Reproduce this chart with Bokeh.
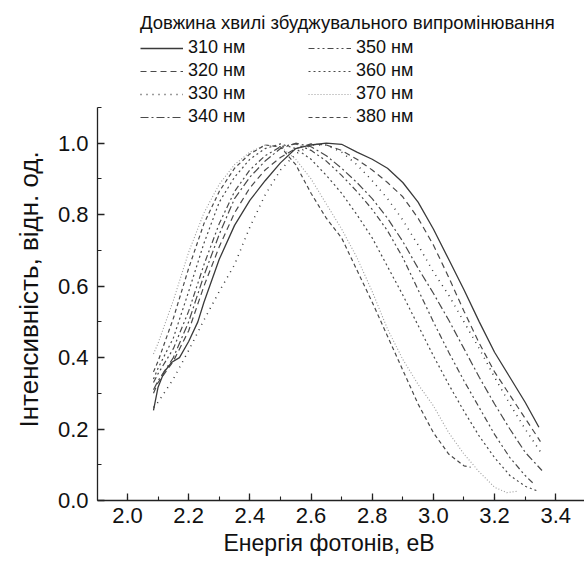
from bokeh.plotting import figure
from bokeh.models import Range1d, Legend, LegendItem, FixedTicker, NumeralTickFormatter, Title
from bokeh.embed import file_html
from bokeh.resources import INLINE

# ---- data (photon energy, eV ; normalised intensity) ----
e_310 = [2.085, 2.10, 2.12, 2.145, 2.17, 2.20, 2.23, 2.25, 2.30, 2.35, 2.40, 2.45, 2.50, 2.55, 2.60,
         2.65, 2.70, 2.75, 2.80, 2.85, 2.90, 2.95, 3.00, 3.05, 3.10, 3.15, 3.20, 3.25, 3.30, 3.345]
i_310 = [0.252, 0.317, 0.36, 0.387, 0.40, 0.445, 0.50, 0.555, 0.675, 0.77, 0.84, 0.895, 0.945, 0.985, 0.995,
         1.0, 0.997, 0.975, 0.955, 0.93, 0.89, 0.835, 0.76, 0.675, 0.59, 0.50, 0.415, 0.345, 0.275, 0.205]

e_320 = [2.085, 2.10, 2.15, 2.20, 2.25, 2.30, 2.35, 2.40, 2.45, 2.50, 2.55, 2.60, 2.65, 2.70,
         2.75, 2.80, 2.85, 2.90, 2.95, 3.00, 3.05, 3.10, 3.15, 3.20, 3.25, 3.30, 3.35]
i_320 = [0.30, 0.33, 0.39, 0.475, 0.60, 0.71, 0.805, 0.875, 0.925, 0.96, 0.985, 0.998, 0.995, 0.98,
         0.955, 0.925, 0.89, 0.85, 0.79, 0.715, 0.625, 0.53, 0.44, 0.36, 0.295, 0.23, 0.165]

e_330 = [2.085, 2.10, 2.15, 2.20, 2.25, 2.30, 2.35, 2.40, 2.45, 2.50, 2.55, 2.60, 2.65, 2.70,
         2.75, 2.80, 2.85, 2.90, 2.95, 3.00, 3.05, 3.10, 3.15, 3.20, 3.25, 3.30, 3.355]
i_330 = [0.26, 0.275, 0.34, 0.42, 0.505, 0.585, 0.66, 0.765, 0.855, 0.925, 0.97, 0.995, 0.995, 0.975,
         0.94, 0.895, 0.845, 0.785, 0.715, 0.64, 0.575, 0.50, 0.425, 0.345, 0.27, 0.20, 0.13]

e_340 = [2.085, 2.10, 2.15, 2.20, 2.25, 2.30, 2.35, 2.40, 2.45, 2.50, 2.55, 2.60, 2.65, 2.70,
         2.75, 2.80, 2.85, 2.90, 2.95, 3.00, 3.05, 3.10, 3.15, 3.20, 3.25, 3.30, 3.355]
i_340 = [0.31, 0.335, 0.40, 0.50, 0.63, 0.745, 0.845, 0.905, 0.95, 0.985, 1.0, 0.99, 0.965, 0.93,
         0.89, 0.845, 0.79, 0.725, 0.65, 0.58, 0.505, 0.425, 0.345, 0.27, 0.20, 0.135, 0.084]

e_350 = [2.085, 2.10, 2.15, 2.20, 2.25, 2.30, 2.35, 2.40, 2.45, 2.50, 2.55, 2.60, 2.65, 2.70,
         2.75, 2.80, 2.85, 2.90, 2.95, 3.00, 3.05, 3.10, 3.15, 3.20, 3.25, 3.30, 3.33]
i_350 = [0.33, 0.355, 0.425, 0.53, 0.66, 0.775, 0.865, 0.925, 0.965, 0.99, 0.998, 0.98, 0.95, 0.91,
         0.865, 0.815, 0.755, 0.68, 0.59, 0.50, 0.415, 0.335, 0.26, 0.185, 0.12, 0.07, 0.045]

e_360 = [2.085, 2.10, 2.15, 2.20, 2.25, 2.30, 2.35, 2.40, 2.45, 2.50, 2.55, 2.60, 2.65, 2.70,
         2.75, 2.80, 2.85, 2.90, 2.95, 3.00, 3.05, 3.10, 3.15, 3.20, 3.25, 3.30, 3.345]
i_360 = [0.34, 0.37, 0.455, 0.585, 0.72, 0.835, 0.905, 0.955, 0.985, 0.998, 0.985, 0.955, 0.91, 0.86,
         0.80, 0.735, 0.655, 0.575, 0.49, 0.405, 0.325, 0.25, 0.18, 0.12, 0.07, 0.04, 0.025]

e_370 = [2.085, 2.10, 2.15, 2.20, 2.25, 2.30, 2.35, 2.40, 2.45, 2.50, 2.55, 2.60, 2.65, 2.70,
         2.75, 2.80, 2.85, 2.90, 2.95, 3.00, 3.05, 3.10, 3.15, 3.20, 3.24, 3.275]
i_370 = [0.41, 0.44, 0.56, 0.695, 0.805, 0.885, 0.94, 0.975, 0.995, 0.99, 0.955, 0.90, 0.83, 0.76,
         0.68, 0.585, 0.48, 0.395, 0.325, 0.265, 0.19, 0.13, 0.08, 0.037, 0.022, 0.026]

e_380 = [2.085, 2.10, 2.15, 2.20, 2.25, 2.30, 2.35, 2.40, 2.45, 2.50, 2.55, 2.60, 2.65, 2.70,
         2.75, 2.80, 2.85, 2.90, 2.95, 3.00, 3.05, 3.10, 3.122]
i_380 = [0.36, 0.39, 0.51, 0.65, 0.775, 0.865, 0.93, 0.97, 0.995, 0.99, 0.94, 0.86, 0.79, 0.735,
         0.645, 0.555, 0.46, 0.365, 0.27, 0.19, 0.13, 0.097, 0.093]

labels = ["310 нм", "320 нм", "330 нм", "340 нм", "350 нм", "360 нм", "370 нм", "380 нм"]
x_ticks = [2.0, 2.2, 2.4, 2.6, 2.8, 3.0, 3.2, 3.4]
y_ticks = [0.0, 0.2, 0.4, 0.6, 0.8, 1.0]
legend_title = "Довжина хвилі збуджувального випромінювання"
x_title = "Енергія фотонів, еВ"
y_title = "Інтенсивність, відн. од."

series = [(e_310, i_310), (e_320, i_320), (e_330, i_330), (e_340, i_340),
          (e_350, i_350), (e_360, i_360), (e_370, i_370), (e_380, i_380)]
styles = [("solid", "#3a3a3a", 1.3),
          ("6 4", "#4a4a4a", 1.2),
          ("1 5", "#3a3a3a", 1.5),
          ("8 3 2 3", "#4a4a4a", 1.2),
          ("6 3 2 3 2 3", "#4a4a4a", 1.2),
          ("2 3", "#4a4a4a", 1.2),
          ("1 2", "#9c9c9c", 1.1),
          ("4 3", "#4a4a4a", 1.2)]

FONT = "Liberation Sans"

# frame reaches the top of the canvas so the legend (inside the frame) is not clipped;
# the axis itself is bounded to 0 - 1.1
p = figure(width=584, height=572, output_backend="svg", toolbar_location=None,
           x_range=Range1d(1.902, 3.494), y_range=Range1d(0.0, 1.3994),
           min_border_left=96, min_border_right=0, min_border_top=0, min_border_bottom=72)
p.outline_line_color = None
p.xgrid.visible = False
p.ygrid.visible = False

renderers = []
for (ex, iy), (dash, col, lw) in zip(series, styles):
    r = p.line(ex, iy, line_color=col, line_width=lw, line_dash=dash)
    renderers.append(r)

minor_x = [round(1.9 + 0.1 * k, 1) for k in range(17)]
minor_y = [round(0.1 * k, 1) for k in range(12)]
p.xaxis.ticker = FixedTicker(ticks=x_ticks, minor_ticks=minor_x)
p.yaxis.ticker = FixedTicker(ticks=y_ticks, minor_ticks=minor_y)
p.yaxis.bounds = (0.0, 1.1)
p.xaxis.formatter = NumeralTickFormatter(format="0.0")
p.yaxis.formatter = NumeralTickFormatter(format="0.0")

for ax in (p.xaxis[0], p.yaxis[0]):
    ax.axis_line_color = "#222222"
    ax.axis_line_width = 1.3
    ax.major_tick_line_color = "#222222"
    ax.minor_tick_line_color = "#222222"
    ax.major_tick_line_width = 1.3
    ax.minor_tick_line_width = 1.1
    ax.major_tick_in = 7
    ax.major_tick_out = 0
    ax.minor_tick_in = 4
    ax.minor_tick_out = 0
    ax.major_label_text_font = FONT
    ax.major_label_text_font_size = "22px"
    ax.major_label_text_color = "#111111"

p.xaxis.major_label_standoff = 7
p.yaxis.major_label_standoff = 9

# axis titles as side titles so they can be placed like in the reference
xt = Title(text=x_title, align="left", offset=126, text_font=FONT, text_font_size="23px",
           text_font_style="normal", text_color="#111111", standoff=4)
yt = Title(text=y_title, align="left", offset=73, text_font=FONT, text_font_size="26px",
           text_font_style="normal", text_color="#111111", standoff=22)
p.add_layout(xt, "below")
p.add_layout(yt, "left")

items = [LegendItem(label=lab, renderers=[r]) for lab, r in zip(labels, renderers)]
legend = Legend(items=items, location=(43, 373), ncols=2,
                title=legend_title, title_text_font=FONT, title_text_font_size="18.5px",
                title_text_font_style="normal", title_text_color="#111111", title_standoff=3,
                label_text_font=FONT, label_text_font_size="18px", label_text_color="#111111",
                glyph_width=43, glyph_height=20, label_standoff=5, label_width=118, spacing=2,
                padding=0, margin=0, background_fill_alpha=0, border_line_color=None)
p.add_layout(legend)

open("out.html", "w").write(file_html(p, INLINE))
